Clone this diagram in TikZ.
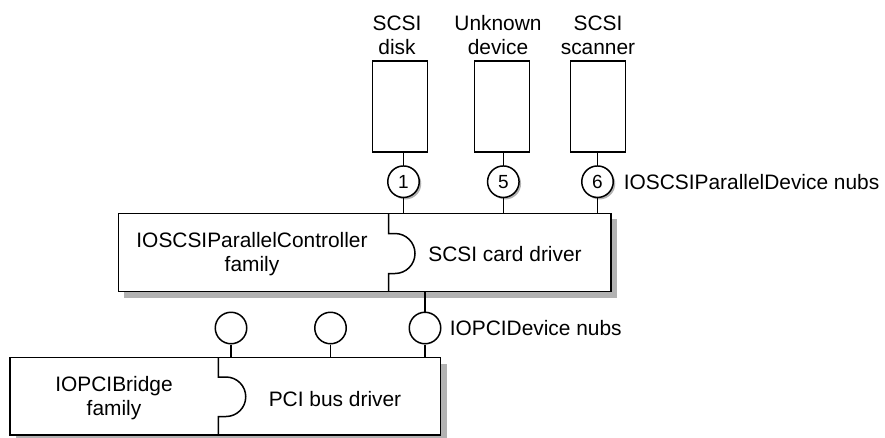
\documentclass[tikz,border=0pt]{standalone}
\usepackage{fontspec}
\setmainfont{Liberation Sans}
\begin{document}
\begin{tikzpicture}[x=1pt,y=-1pt,
  line width=1.5pt,
  every node/.style={font=\fontsize{20.9}{24}\selectfont},
  devbox/.style={draw,fill=white,minimum width=55pt,minimum height=90.7pt,inner sep=0pt},
  nub/.style={draw,fill=white,circle,minimum size=31.5pt,inner sep=0pt},
  numnub/.style={nub,font=\fontsize{19}{22}\selectfont},
  bigbox/.style={draw,fill=white,inner sep=0pt},
  shadowc/.style={fill=black!30},
  lbl/.style={align=center,inner sep=0pt},
  sidelbl/.style={anchor=west,inner sep=0pt}
]
\useasboundingbox (0,0) rectangle (885,437);

% device boxes
\node[devbox] (disk) at (400.2,106.4) {};
\node[devbox] (unk) at (502.2,106.4) {};
\node[devbox] (scan) at (597.9,106.4) {};
\node[lbl] (diskl) at (397,35) {SCSI\\disk};
\node[lbl] (unkl) at (498,35) {Unknown\\device};
\node[lbl] (scanl) at (598,35) {SCSI\\scanner};

% upper big box
\fill[shadowc] (124.3,219.3) rectangle (617,297.7);
\node[bigbox,minimum width=492.7pt,minimum height=78.4pt] (ctl) at (364.65,252.5) {};
\coordinate (cdt) at (388.7,213.3);
\coordinate (cdb) at (388.7,291.7);
\draw (cdt) -- (388.7,233.5) -- (395,233.5) arc[start angle=-90,end angle=90,radius=20] -- (388.7,273.5) -- (cdb);
\node[lbl] (ctll) at (252,254) {IOSCSIParallelController\\family};
\node[lbl] (ctlr) at (505,254) {SCSI card driver};

% numbered nubs
\fill[shadowc] (405.5,183.7) circle[radius=15.75pt];
\fill[shadowc] (505.3,183.7) circle[radius=15.75pt];
\fill[shadowc] (599.5,183.7) circle[radius=15.75pt];
\node[numnub] (n1) at (403.5,181.7) {1};
\node[numnub] (n5) at (503.3,181.7) {5};
\node[numnub] (n6) at (597.5,181.7) {6};
\draw (n1.north) -- (n1.north |- disk.south);
\draw (n5.north) -- (n5.north |- unk.south);
\draw (n6.north) -- (n6.north |- scan.south);
\draw (n1.south) -- (n1.south |- ctl.north);
\draw (n5.south) -- (n5.south |- ctl.north);
\draw (n6.south) -- (n6.south |- ctl.north);
\node[sidelbl] (nubl) at (623,182) {IOSCSIParallelDevice nubs};

% lower big box
\fill[shadowc] (16,363.7) rectangle (446.5,445);
\node[bigbox,minimum width=430.5pt,minimum height=77.3pt] (pci) at (225.25,396.35) {};
\coordinate (pdt) at (218.3,357.7);
\coordinate (pdb) at (218.3,435);
\draw (pdt) -- (218.3,377) -- (226,377) arc[start angle=-90,end angle=90,radius=19.75] -- (218.3,416.5) -- (pdb);
\node[lbl] (pcil) at (114,398) {IOPCIBridge\\family};
\node[lbl] (pcir) at (335,399) {PCI bus driver};

% PCI nubs
\node[nub] (p1) at (231,328) {};
\node[nub] (p2) at (330.5,328) {};
\node[nub] (p3) at (425,328) {};
\draw (p1.south) -- (p1.south |- pci.north);
\draw (p2.south) -- (p2.south |- pci.north);
\draw (p3.south) -- (p3.south |- pci.north);
\draw (p3.north) -- (p3.north |- ctl.south);
\node[sidelbl] (pcinubl) at (449,328) {IOPCIDevice nubs};
\end{tikzpicture}
\end{document}
